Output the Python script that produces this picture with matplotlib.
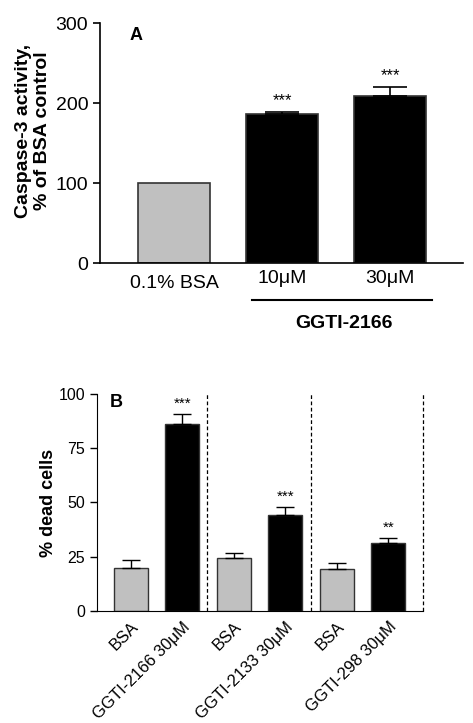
import matplotlib
matplotlib.use("Agg")
import matplotlib.pyplot as plt
import numpy as np

plt.rcParams["font.family"] = ["Liberation Sans", "DejaVu Sans"]

# Panel A: caspase-3 activity
a_labels = ["0.1% BSA", "10\u03bcM", "30\u03bcM"]
a_values = [100, 186, 209]
a_err = [0, 3, 11]
a_colors = ["#c0c0c0", "black", "black"]
a_stars = ["", "***", "***"]

# Panel B: % dead cells
b_labels = ["BSA", "GGTI-2166 30\u03bcM", "BSA", "GGTI-2133 30\u03bcM", "BSA", "GGTI-298 30\u03bcM"]
b_values = [20, 86, 24.4, 44.4, 19.5, 31.3]
b_err = [3.5, 5, 2.3, 3.4, 2.8, 2.3]
b_colors = ["#c0c0c0", "black"] * 3
b_stars = ["", "***", "", "***", "", "**"]

fig = plt.figure(figsize=(4.73, 7.23), dpi=100)

# ---- panel A
ax = fig.add_axes([0.2114, 0.636, 0.768, 0.332])
xa = np.arange(len(a_values))
ax.bar(xa, a_values, width=0.67, color=a_colors, edgecolor="#333333", linewidth=1.2)
for x, v, e, s in zip(xa, a_values, a_err, a_stars):
    if e > 0:
        ax.errorbar([x], [v], yerr=[[0], [e]], fmt="none",
                    ecolor="black", elinewidth=1.2, capsize=12, capthick=1.2)
    if s:
        ax.text(x, v + e + 5, s, ha="center", va="bottom", fontsize=12)
ax.set_xlim(-0.685, 2.676)
ax.set_ylim(0, 300)
ax.set_yticks([0, 100, 200, 300])
ax.tick_params(axis="y", labelsize=14, length=5, width=1.2, direction="out")
ax.set_xticks(xa)
ax.set_xticklabels(a_labels, fontsize=14)
ax.tick_params(axis="x", length=0, pad=5)
ax.xaxis.get_ticklabels()[0].set_y(-0.02)
for sp in ("top", "right"):
    ax.spines[sp].set_visible(False)
for sp in ("left", "bottom"):
    ax.spines[sp].set_linewidth(1.2)
ax.set_ylabel("Caspase-3 activity,\n% of BSA control", fontsize=14, fontweight="bold",
              linespacing=1.15)
ax.yaxis.set_label_coords(-0.135, 0.55)
ax.text(0.08, 0.95, "A", transform=ax.transAxes, fontsize=13, fontweight="bold",
        ha="left", va="center")
trans = ax.get_xaxis_transform()
ax.plot([0.72, 2.39], [-0.154, -0.154], transform=trans, color="black", lw=1.5, clip_on=False)
ax.text(1.57, -0.25, "GGTI-2166", transform=trans, fontsize=14, fontweight="bold",
        ha="center", va="center")

# ---- panel B
bx = fig.add_axes([0.205, 0.155, 0.689, 0.30])
xb = np.arange(len(b_values))
bx.bar(xb, b_values, width=0.66, color=b_colors, edgecolor="#333333", linewidth=1.0)
bx.errorbar(xb, b_values, yerr=[np.zeros(len(b_err)), b_err], fmt="none",
            ecolor="black", elinewidth=1.0, capsize=6.5, capthick=1.0)
for x, v, e, s in zip(xb, b_values, b_err, b_stars):
    if s:
        bx.text(x, v + e + 1.5, s, ha="center", va="bottom", fontsize=11)
for xd in (1.48, 3.5, 5.67):
    bx.axvline(xd, color="black", lw=0.9, ls=(0, (3, 2)), clip_on=False)
bx.set_xlim(-0.66, 5.67)
bx.set_ylim(0, 100)
bx.set_yticks([0, 25, 50, 75, 100])
bx.tick_params(axis="y", labelsize=11.5, length=5, width=1.0, direction="out")
bx.set_xticks(xb)
bx.set_xticklabels(b_labels, fontsize=12, rotation=45, ha="right", rotation_mode="anchor")
bx.tick_params(axis="x", length=0, pad=6)
for sp in ("top", "right"):
    bx.spines[sp].set_visible(False)
bx.set_ylabel("% dead cells", fontsize=13, fontweight="bold", labelpad=1)
bx.text(0.04, 0.96, "B", transform=bx.transAxes, fontsize=13, fontweight="bold",
        ha="left", va="center")

fig.savefig("out.png", dpi=100)
